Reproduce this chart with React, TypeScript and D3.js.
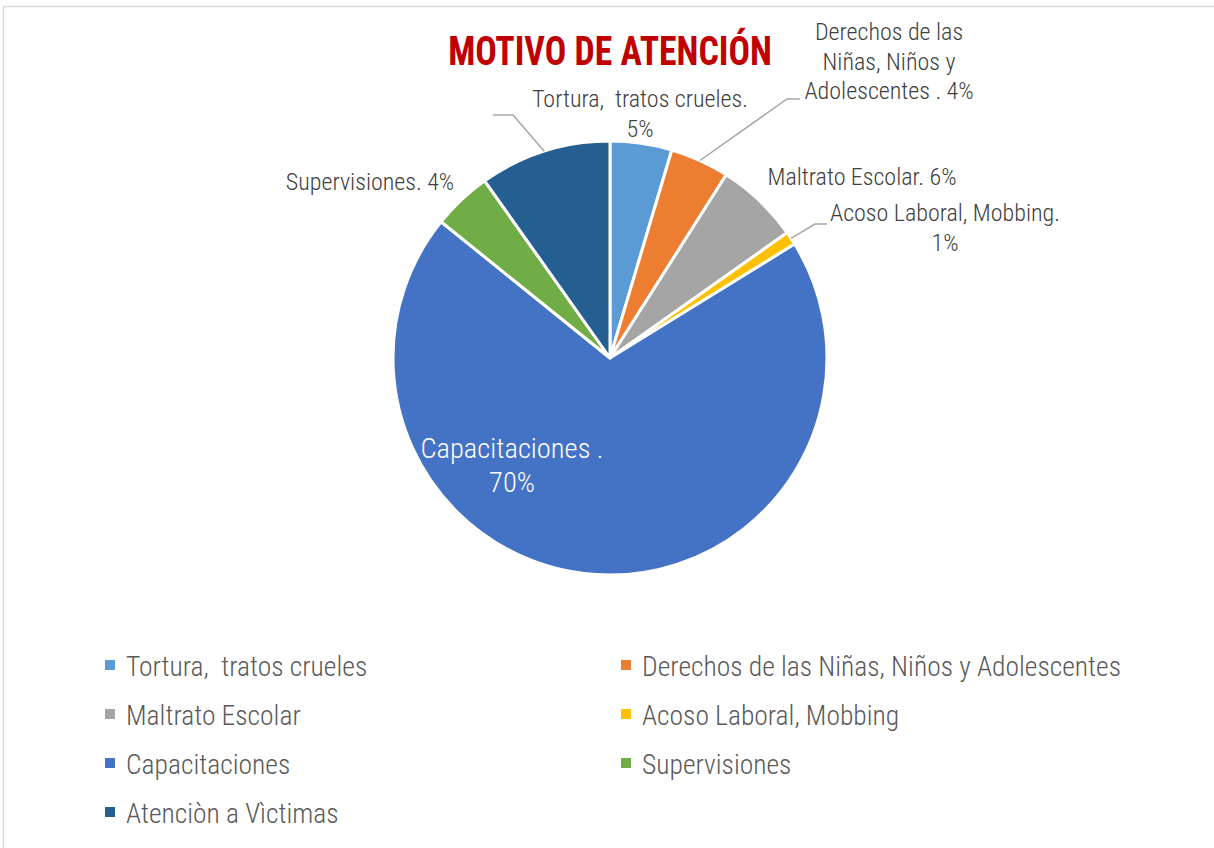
import React from "react";
import * as d3 from "d3";

const categories = [
  "Tortura,  tratos crueles",
  "Derechos de las Niñas, Niños y Adolescentes",
  "Maltrato Escolar",
  "Acoso Laboral, Mobbing",
  "Capacitaciones",
  "Supervisiones",
  "Atenciòn a Vìctimas",
];
const values = [4.6, 4.4, 6.2, 1.0, 69.6, 4.4, 9.8];
const colors = ["#5B9BD5", "#ED7D31", "#A5A5A5", "#FFC000", "#4472C4", "#70AD47", "#255E91"];
const labelLines: string[][] = [
  ["Tortura,  tratos crueles.", "{p}"],
  ["Derechos de las", "Niñas, Niños y", "Adolescentes . {p}"],
  ["Maltrato Escolar. {p}"],
  ["Acoso Laboral, Mobbing.", "{p}"],
  ["Capacitaciones .", "{p}"],
  ["Supervisiones. {p}"],
  [],
];

const W = 1214;
const H = 848;
const cx = 610;
const cy = 358;
const R = 217;
const FONT = "'Roboto Condensed', Roboto, sans-serif";

const labelLayout = [
  { x: 640, y: 107, fill: "#404040", size: 24 },
  { x: 889, y: 40, fill: "#404040", size: 24, elbow: [787, 99], end: [800, 99] },
  { x: 862, y: 185, fill: "#404040", size: 24 },
  { x: 945, y: 221, fill: "#404040", size: 24, elbow: [815, 224], end: [827, 224] },
  { x: 512, y: 458, fill: "#ffffff", size: 28.5 },
  { x: 370, y: 190, fill: "#404040", size: 24 },
  { x: 490, y: 115, fill: "#404040", size: 24, elbow: [513, 115], end: [493, 115] },
];

function ScaledText({ x, y, size, fill, children, anchor = "middle", weight = 300, sx = 1 }: any) {
  return (
    <g transform={`translate(${x},${y}) scale(${sx},1)`}>
      <text
        x={0}
        y={0}
        fontFamily={FONT}
        fontSize={size}
        fill={fill}
        textAnchor={anchor}
        fontWeight={weight}
        style={{ whiteSpace: "pre" }}
      >
        {children}
      </text>
    </g>
  );
}

export default function App() {
  const total = d3.sum(values);
  const pie = d3.pie<number>().sort(null).value((d) => d)(values);
  const arc = d3.arc<d3.PieArcDatum<number>>().innerRadius(0).outerRadius(R);

  const legendRows = [676, 725, 774, 823];
  const legendCols = [105, 621];

  return (
    <svg width={W} height={H} style={{ position: "absolute", left: 0, top: 0, background: "#fff" }}>
      <rect x={3.5} y={6.5} width={W + 20} height={H + 20} fill="#fff" stroke="#d9d9d9" strokeWidth={1.5} />
      <ScaledText x={610} y={65} size={40} fill="#C00000" weight={700} sx={0.893}>
        MOTIVO DE ATENCIÓN
      </ScaledText>
      <g transform={`translate(${cx},${cy})`}>
        {pie.map((p, i) => (
          <path key={i} d={arc(p) || ""} fill={colors[i]} stroke="#fff" strokeWidth={3} strokeLinejoin="round" />
        ))}
      </g>
      {pie.map((p, i) => {
        const L = labelLayout[i];
        if (!L.elbow) return null;
        const mid = (p.startAngle + p.endAngle) / 2;
        const px = cx + R * Math.sin(mid);
        const py = cy - R * Math.cos(mid);
        return (
          <polyline
            key={"l" + i}
            points={`${px},${py} ${L.elbow[0]},${L.elbow[1]} ${L.end[0]},${L.end[1]}`}
            fill="none"
            stroke="#A6A6A6"
            strokeWidth={1.5}
          />
        );
      })}
      {labelLines.map((lines, i) => {
        const L = labelLayout[i];
        const pct = Math.round((values[i] / total) * 100) + "%";
        const lh = i === 4 ? 34 : 29.5;
        return lines.map((ln, j) => (
          <ScaledText key={i + "-" + j} x={L.x} y={L.y + j * lh} size={L.size} fill={L.fill}>
            {ln.replace("{p}", pct)}
          </ScaledText>
        ));
      })}
      {categories.map((c, i) => {
        const x = legendCols[i % 2];
        const y = legendRows[Math.floor(i / 2)];
        return (
          <g key={"lg" + i}>
            <rect x={x} y={y - 16} width={10} height={10} fill={colors[i]} />
            <ScaledText x={x + 21} y={y} size={27} fill="#595959" anchor="start" sx={1.02}>
              {c}
            </ScaledText>
          </g>
        );
      })}
    </svg>
  );
}
